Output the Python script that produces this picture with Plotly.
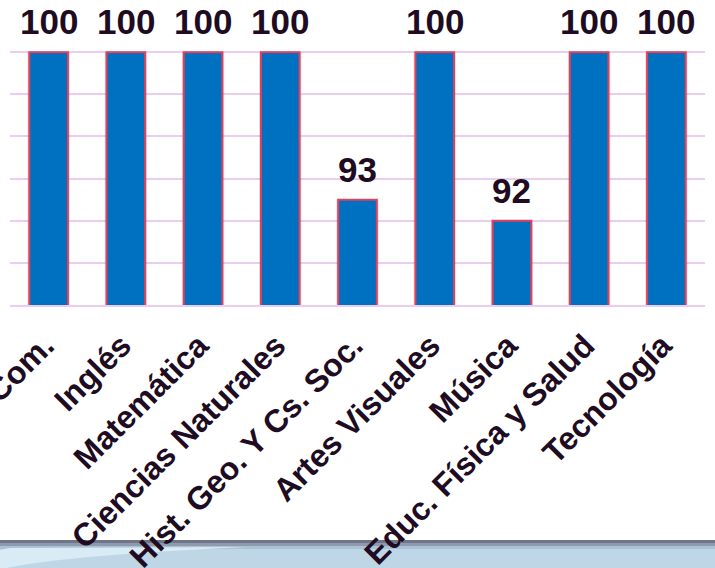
import plotly.graph_objects as go

# ── Data ──────────────────────────────────────────────────────────────────────
asignaturas = [
    "Lenguaje y Com.", "Inglés", "Matemática", "Ciencias Naturales",
    "Hist. Geo. Y Cs. Soc.", "Artes Visuales", "Música",
    "Educ. Física y Salud", "Tecnología",
]
porcentajes = [100, 100, 100, 100, 93, 100, 92, 100, 100]

# ── Palette ──────────────────────────────────────────────────────────────────
BAR = "#0070c0"
EDGE = "#e0405c"
GRID = "#ebcdf2"
TXT = "#200c22"
FONT = "Liberation Sans, Arial, sans-serif"

fig = go.Figure()
# soft shadow behind the bars
fig.add_trace(go.Bar(
    x=asignaturas, y=porcentajes, width=0.55,
    marker=dict(color="rgba(90,90,90,0.18)", line_width=0),
    hoverinfo="skip",
))
fig.add_trace(go.Bar(
    x=asignaturas, y=porcentajes, width=0.5,
    marker=dict(color=BAR, line=dict(color=EDGE, width=2)),
    hoverinfo="skip",
))

for cat, val in zip(asignaturas, porcentajes):
    fig.add_annotation(x=cat, y=val, text=f"<b>{val}</b>", showarrow=False,
                       yanchor="bottom", yshift=9,
                       font=dict(size=35, color=TXT, family=FONT))

# bottom band of the slide (approximate gradient with thin strips)
# plot area spans pixels y 10..305 -> paper 1..0
def py(pix):
    return (305 - pix) / 295

band = [("#6f7688", 540, 543), ("#8f9aae", 543, 546),
        ("#aac2d6", 546, 549), ("#bfd6e6", 549, 575)]
for col, y0, y1 in band:
    fig.add_shape(type="rect", xref="paper", yref="paper",
                  x0=-0.03, x1=1.03, y0=py(y1), y1=py(y0),
                  fillcolor=col, line_width=0, layer="below")
fig.add_shape(type="path", xref="paper", yref="paper",
              path=(f"M -0.03 {py(572)} Q 0.05 {py(556)} 0.34 {py(547)} "
                    f"L 0.0 {py(548)} Q -0.03 {py(552)} -0.03 {py(556)} Z"),
              fillcolor="#d9ebf4", line_width=0, layer="below")

fig.update_layout(
    width=715, height=568,
    margin=dict(l=10, r=10, t=10, b=263),
    paper_bgcolor="white", plot_bgcolor="white",
    showlegend=False, barmode="overlay",
    font=dict(family=FONT, color=TXT),
    xaxis=dict(tickangle=-45, automargin=False, showline=True,
               linecolor=GRID, linewidth=2, ticks="",
               ticklabelstandoff=7, ticklabelshift=-4,
               tickfont=dict(size=32, color=TXT, family=FONT, weight="bold")),
    yaxis=dict(range=[88, 102], dtick=2, gridcolor=GRID, gridwidth=2,
               showticklabels=False, zeroline=False, automargin=False),
)

fig.write_html("out.html", config={"displayModeBar": False},
               post_script="document.body.style.margin='0';")
